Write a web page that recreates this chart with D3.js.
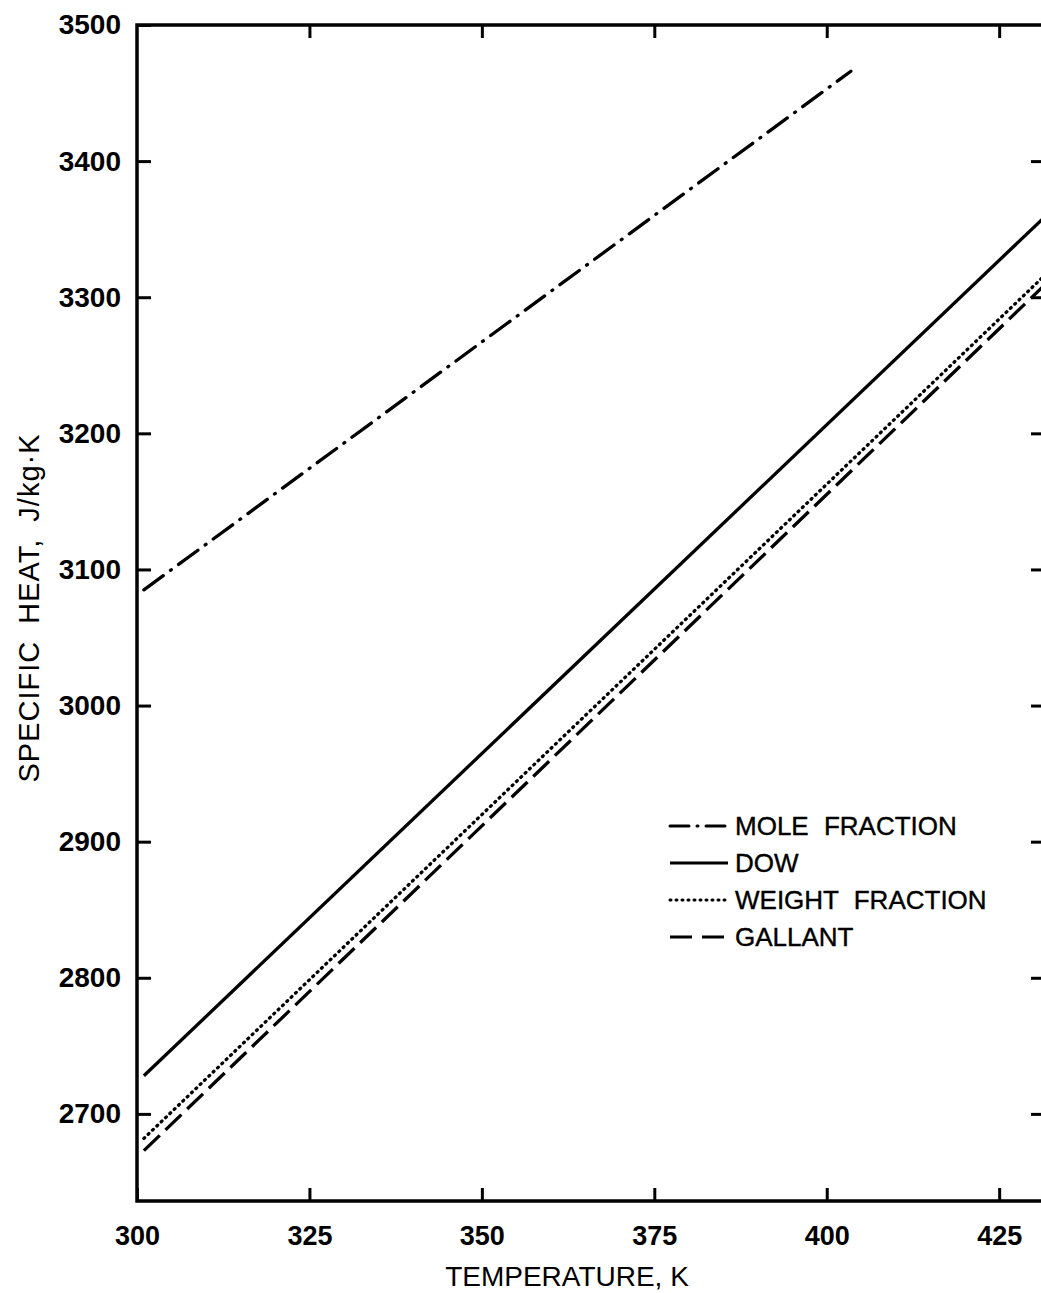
<!DOCTYPE html>
<html>
<head>
<meta charset="utf-8">
<script src="https://cdn.jsdelivr.net/npm/d3@7"></script>
<style>
body { margin: 0; background: #fff; }
</style>
</head>
<body>
<div></div>
<script>
var width = 1041;
var height = 1293;

// values
var xTicks = [300, 325, 350, 375, 400, 425];
var xTickLabels = ["300", "325", "350", "375", "400", "425"];
var yTicks = [2700, 2800, 2900, 3000, 3100, 3200, 3300, 3400, 3500];
var yTickLabels = ["2700", "2800", "2900", "3000", "3100", "3200", "3300", "3400", "3500"];

var moleT = [301, 403.5];
var moleCp = [3085, 3466];
var dowT = [301, 431.6];
var dowCp = [2728, 3359];
var weightT = [301, 431.6];
var weightCp = [2682, 3316];
var gallantT = [301, 431.6];
var gallantCp = [2673, 3309];

var seriesNames = ["MOLE FRACTION", "DOW", "WEIGHT FRACTION", "GALLANT"];

var plotLeft = 137, plotTop = 25, plotRight = 1044, plotBottom = 1201;

var svg = d3.select("div")
    .append("svg")
    .attr("width", width)
    .attr("height", height)
    .style("font-family", "'Liberation Sans', Arial, sans-serif");

var x = d3.scaleLinear().domain([300, 431.5]).range([plotLeft, plotRight]);
var y = d3.scaleLinear().domain([2636, 3500]).range([plotBottom, plotTop]);

svg.append("clipPath").attr("id", "plot")
    .append("rect")
    .attr("x", plotLeft).attr("y", plotTop)
    .attr("width", plotRight - plotLeft).attr("height", plotBottom - plotTop);

var styles = [
    { dash: "24,9,1,9", cap: "round" },
    { dash: null, cap: "butt" },
    { dash: "1,5", cap: "round" },
    { dash: "22,8", cap: "butt" }
];

var series = [
    d3.zip(moleT, moleCp),
    d3.zip(dowT, dowCp),
    d3.zip(weightT, weightCp),
    d3.zip(gallantT, gallantCp)
];

var line = d3.line()
    .x(function (d) { return x(d[0]); })
    .y(function (d) { return y(d[1]); });

var g = svg.append("g").attr("clip-path", "url(#plot)");
series.forEach(function (s, i) {
    g.append("path")
        .datum(s)
        .attr("d", line)
        .attr("fill", "none")
        .attr("stroke", "#000")
        .attr("stroke-width", 3.3)
        .attr("stroke-linecap", styles[i].cap)
        .attr("stroke-dasharray", styles[i].dash);
});

// frame with inward ticks on all four sides
function axisStyle(sel) {
    sel.select(".domain").remove();
    sel.selectAll(".tick line").attr("stroke", "#000").attr("stroke-width", 3);
}

svg.append("g")
    .attr("transform", "translate(0," + plotBottom + ")")
    .call(d3.axisBottom(x).tickValues(xTicks).tickSize(-13).tickPadding(21)
        .tickFormat(function (d, i) { return xTickLabels[i]; }))
    .call(axisStyle)
    .selectAll("text")
    .attr("font-size", 27).attr("font-weight", "bold").attr("fill", "#000")
    .attr("dy", "0.85em");

svg.append("g")
    .attr("transform", "translate(0," + plotTop + ")")
    .call(d3.axisTop(x).tickValues(xTicks.slice(1)).tickSize(-13).tickFormat(""))
    .call(axisStyle);

svg.append("g")
    .attr("transform", "translate(" + plotLeft + ",0)")
    .call(d3.axisLeft(y).tickValues(yTicks).tickSize(-14).tickPadding(16)
        .tickFormat(function (d, i) { return yTickLabels[i]; }))
    .call(axisStyle)
    .selectAll("text")
    .attr("font-size", 28).attr("font-weight", "bold").attr("fill", "#000");

svg.append("g")
    .attr("transform", "translate(" + plotRight + ",0)")
    .call(d3.axisRight(y).tickValues(yTicks.slice(0, -1)).tickSize(-13).tickFormat(""))
    .call(axisStyle);

svg.append("path")
    .attr("d", "M" + plotRight + "," + plotTop + "H" + plotLeft + "V" + plotBottom + "H" + plotRight + "V" + plotTop)
    .attr("fill", "none")
    .attr("stroke", "#000")
    .attr("stroke-width", 3.5);

// axis titles
svg.append("text")
    .attr("x", 567).attr("y", 1286)
    .attr("text-anchor", "middle")
    .attr("font-size", 28)
    .text("TEMPERATURE, K");

svg.append("text")
    .attr("transform", "translate(39,608) rotate(-90)")
    .attr("text-anchor", "middle")
    .attr("font-size", 29)
    .attr("letter-spacing", 1)
    .attr("word-spacing", 8)
    .text("SPECIFIC HEAT, J/kg\u00b7K");

// legend
var legend = svg.append("g");
seriesNames.forEach(function (name, i) {
    var ly = 826 + i * 37;
    legend.append("line")
        .attr("x1", 670).attr("x2", 728)
        .attr("y1", ly).attr("y2", ly)
        .attr("stroke", "#000")
        .attr("stroke-width", 3)
        .attr("stroke-linecap", styles[i].cap)
        .attr("stroke-dasharray", i == 0 ? "19,8,1,8" : (i == 3 ? "22,10" : styles[i].dash));
    legend.append("text")
        .attr("x", 735).attr("y", ly)
        .attr("dy", "0.36em")
        .attr("font-size", 26)
        .attr("word-spacing", 8)
        .attr("stroke", "#000")
        .attr("stroke-width", 0.4)
        .text(name);
});
</script>
</body>
</html>
